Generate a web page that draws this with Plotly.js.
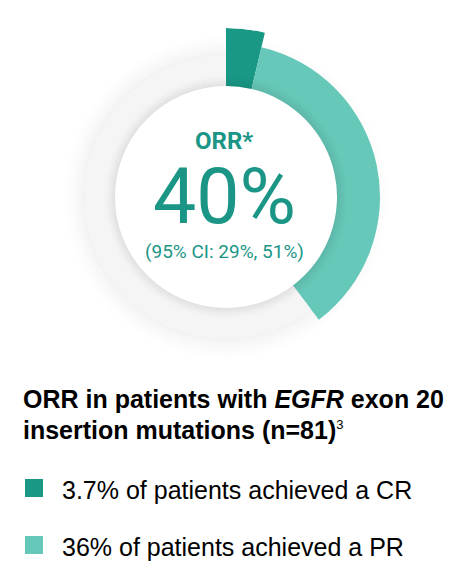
<!DOCTYPE html>
<html>
<head>
<meta charset="utf-8">
<script src="https://cdn.plot.ly/plotly-3.0.1.min.js"></script>
<style>
  html, body { margin: 0; padding: 0; background: #ffffff; }
  #chart { width: 465px; height: 586px; }
</style>
</head>
<body>
<div id="chart"></div>
<script>
// ---- data ----
const segmentLabels = ['CR', 'PR', 'No response'];
const segmentShares = [3.7, 36.0, 60.3];          // percent of patients
const legendLabels = ['3.7% of patients achieved a CR', '36% of patients achieved a PR'];
const centerLabel = 'ORR*';
const centerValue = '40%';
const centerCI = '(95% CI: 29%, 51%)';
const titleLines = ['ORR in patients with <i>EGFR</i> exon 20', 'insertion mutations (n=81)'];
const titleSup = '3';

// ---- styles ----
const W = 465, H = 586;
const CX = 226, CY = 197, RMAX = 169;
const INNER = 111;
const segStyle = {
  'CR':          { outer: 169, color: '#1a9886' },
  'PR':          { outer: 154, color: '#66c8b8' },
  'No response': { outer: 141, color: '#f5f5f5' }
};
const teal = '#1b9686';

const px = x => x / W;
const py = y => 1 - y / H;

const traces = [];

// soft outer shadow around the ring (decoration)
for (let k = 0; k < 16; k++) {
  traces.push({
    type: 'barpolar',
    r: [1.6], base: [141 + k * 1.6], theta: [180], width: [360],
    marker: { color: 'rgba(0,0,0,' + (0.05 * Math.pow(1 - k / 16, 1.6)).toFixed(4) + ')', line: { width: 0 } },
    hoverinfo: 'skip', showlegend: false
  });
}

// segments
let start = 0;
segmentLabels.forEach((lab, i) => {
  const share = segmentShares[i];
  const st = segStyle[lab];
  traces.push({
    type: 'barpolar',
    name: lab,
    r: [st.outer - INNER],
    base: [INNER],
    theta: [(start + share / 2) * 3.6],
    width: [share * 3.6],
    marker: { color: st.color, line: { width: 0 } },
    hovertemplate: lab + ': ' + share + '%<extra></extra>',
    showlegend: false
  });
  start += share;
});

// shadow cast by inner white disc onto the ring (decoration)
for (let k = 0; k < 10; k++) {
  traces.push({
    type: 'barpolar',
    r: [1.2], base: [INNER + k * 1.2], theta: [180], width: [360],
    marker: { color: 'rgba(0,0,0,' + (0.08 * Math.pow(1 - k / 10, 1.5)).toFixed(4) + ')', line: { width: 0 } },
    hoverinfo: 'skip', showlegend: false
  });
}

const annotations = [
  { text: '<b>' + centerLabel + '</b>', x: px(224), y: py(141), font: { family: 'Roboto', size: 24, color: teal } },
  { text: centerValue, x: px(224), y: py(197), font: { family: 'Roboto', size: 77, color: teal } },
  { text: centerCI, x: px(224), y: py(252), font: { family: 'Roboto', size: 19, color: teal } },
  { text: '<b>' + titleLines[0] + '</b>', x: px(21), xanchor: 'left', y: py(398.5), font: { family: 'Liberation Sans', size: 25, color: '#000' } },
  { text: '<b>' + titleLines[1] + '</b><sup><span style="font-size:13px">' + titleSup + '</span></sup>', x: px(21), xanchor: 'left', y: py(429.5), font: { family: 'Liberation Sans', size: 25, color: '#000' } },
  { text: legendLabels[0], x: px(60), xanchor: 'left', y: py(489.5), font: { family: 'Liberation Sans', size: 25, color: '#000' } },
  { text: legendLabels[1], x: px(60), xanchor: 'left', y: py(546.5), font: { family: 'Liberation Sans', size: 25, color: '#000' } }
].map(a => Object.assign({ xref: 'paper', yref: 'paper', showarrow: false, xanchor: 'center', yanchor: 'middle' }, a));

const shapes = [
  { type: 'rect', xref: 'paper', yref: 'paper', x0: px(25), x1: px(43), y0: py(479), y1: py(497), fillcolor: segStyle['CR'].color, line: { width: 0 } },
  { type: 'rect', xref: 'paper', yref: 'paper', x0: px(25), x1: px(43), y0: py(536), y1: py(554), fillcolor: segStyle['PR'].color, line: { width: 0 } }
];

const layout = {
  width: W, height: H,
  margin: { l: 0, r: 0, t: 0, b: 0 },
  paper_bgcolor: '#ffffff',
  showlegend: false,
  polar: {
    domain: { x: [px(CX - RMAX), px(CX + RMAX)], y: [py(CY + RMAX), py(CY - RMAX)] },
    bgcolor: 'rgba(0,0,0,0)',
    barmode: 'overlay',
    radialaxis: { range: [0, RMAX], visible: false, showgrid: false },
    angularaxis: { rotation: 90, direction: 'clockwise', visible: false, showgrid: false }
  },
  annotations: annotations,
  shapes: shapes
};

Plotly.newPlot('chart', traces, layout, { displayModeBar: false, staticPlot: true });
</script>
</body>
</html>
